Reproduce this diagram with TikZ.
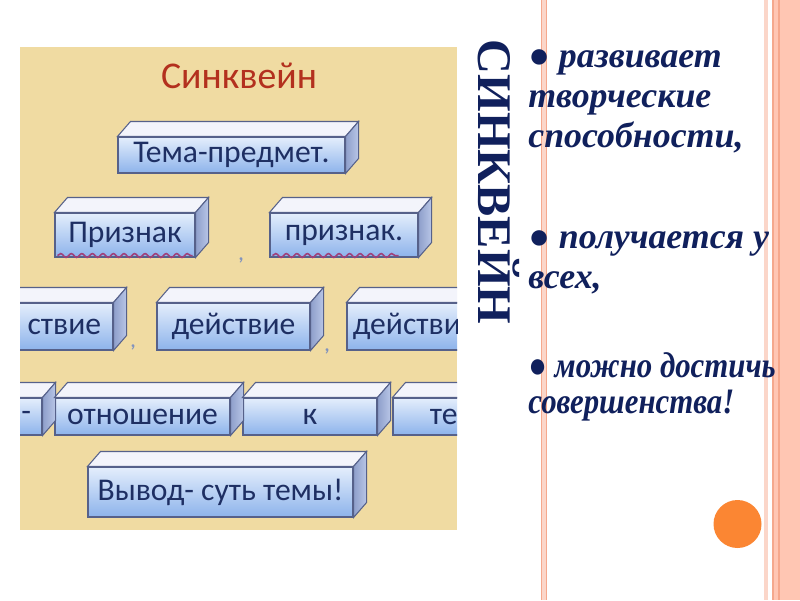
\documentclass[tikz,border=0pt]{standalone}
\usepackage{fontspec}
\setmainfont{Liberation Serif}
\newfontfamily\boxfont{Carlito}
\newfontfamily\narrowserif[FakeStretch=0.86]{Liberation Serif}
\usetikzlibrary{calc,decorations.pathmorphing}
\definecolor{ink}{HTML}{10205C}
\definecolor{photobg}{HTML}{F0DBA2}
\definecolor{titlered}{HTML}{B3301E}
\definecolor{boxtext}{HTML}{1E2F63}
\definecolor{boxline}{HTML}{56618A}
\definecolor{facetop}{HTML}{E4EEFC}
\definecolor{facebot}{HTML}{8DB3EB}
\definecolor{topface}{HTML}{F3F4FB}
\definecolor{sidel}{HTML}{8E9FCB}
\definecolor{sider}{HTML}{B8C5E6}
\definecolor{waveline}{HTML}{A0407A}
\definecolor{commacol}{HTML}{8193BE}
\definecolor{stripe}{HTML}{FFC6B3}
\definecolor{stripeline}{HTML}{F5A88C}
\definecolor{stripepale}{HTML}{FBD6C9}
\definecolor{dotorange}{HTML}{FB8633}
\newcommand\pxu{0.02cm}

\begin{document}
\begin{tikzpicture}[x=0.02cm, y=-0.02cm,
  face/.style={draw=boxline, line width=0.6pt, top color=facetop, bottom color=facebot,
               inner sep=0pt, font=\boxfont\fontsize{18}{20}\selectfont, text=boxtext},
  topf/.style={draw=boxline, line width=0.6pt, fill=topface},
  sidef/.style={draw=boxline, line width=0.6pt, left color=sidel, right color=sider},
  lbl/.style={font=\boxfont\fontsize{18}{20}\selectfont, text=boxtext, inner sep=0pt},
  comma/.style={font=\boxfont\fontsize{11}{12}\selectfont\bfseries, text=commacol, inner sep=0pt},
  wavy/.style={draw=waveline, line width=0.9pt, decorate,
               decoration={snake, amplitude=1.1pt, segment length=6pt}},
  bullet/.style={font=\bfseries\itshape\fontsize{20.4}{22.7}\selectfont, text=ink,
                 align=left, anchor=base west, inner sep=0pt}]
\useasboundingbox (0,0) rectangle (800,600);
\fill[white] (0,0) rectangle (800,600);
% ---------------- slide stripes
\fill[stripepale] (541,0) rectangle (546,600);
\draw[stripeline, line width=0.4pt] (541,0) -- (541,600) (546,0) -- (546,600);
\fill[stripepale] (764,0) rectangle (768,600);
\fill[stripe] (772,0) rectangle (800,600);
\draw[stripeline, line width=0.8pt] (773,0) -- (773,600) (779,0) -- (779,600);
\node[circle, fill=dotorange, minimum size=48*\pxu, inner sep=0pt] (dot) at (737.5,524) {};
% ---------------- cinquain picture
\begin{scope}
\clip (20,47) rectangle (457,530);
\fill[photobg] (20,47) rectangle (457,530);
\node[font=\boxfont\fontsize{21.5}{24}\selectfont, text=titlered] (title) at (239,76) {Синквейн};
% fronts (cm from px)
\node[face, minimum width=227*\pxu, minimum height=36*\pxu] (tema) at (231.5,155) {Тема-предмет.};
\node[face, minimum width=140*\pxu, minimum height=44*\pxu] (prz1) at (125,235) {Признак};
\node[face, minimum width=148*\pxu, minimum height=44*\pxu] (prz2) at (344,235) {признак.};
\node[face, minimum width=150*\pxu, minimum height=47*\pxu] (dst1) at (38,326.5) {};
\node[face, minimum width=153*\pxu, minimum height=47*\pxu] (dst2) at (233.5,326.5) {действие};
\node[face, minimum width=150*\pxu, minimum height=47*\pxu] (dst3) at (422,326.5) {};
\node[face, minimum width=142*\pxu, minimum height=37*\pxu] (otn0) at (-29,416.5) {};
\node[face, minimum width=175*\pxu, minimum height=37*\pxu] (otn) at (142.5,416.5) {отношение};
\node[face, minimum width=134*\pxu, minimum height=37*\pxu] (kk) at (310,416.5) {к};
\node[face, minimum width=140*\pxu, minimum height=37*\pxu] (tem) at (463,416.5) {};
\node[face, minimum width=265*\pxu, minimum height=50*\pxu] (vyv) at (220.5,492) {Вывод- суть темы!};
% top and right faces
\foreach \n in {tema,prz1,prz2,dst1,dst2,dst3,otn0,otn,kk,tem,vyv} {
  \draw[topf] (\n.north west) -- ++(13,-15) -- ($(\n.north east)+(13,-15)$) -- (\n.north east) -- cycle;
  \draw[sidef] (\n.north east) -- ++(13,-15) -- ($(\n.south east)+(13,-15)$) -- (\n.south east) -- cycle;
}
% cut-off words
\node[lbl, anchor=east] (dst1t) at ($(dst1.east)+(-12,0)$) {ствие};
\node[lbl, anchor=west] (dst3t) at ($(dst3.west)+(6,0)$) {действи};
\node[lbl, anchor=east] (otn0t) at ($(otn0.east)+(-11,0)$) {-};
\node[lbl, anchor=west] (temt) at ($(tem.west)+(37,0)$) {те};
% commas and spell-check waves
\node[comma] (c1) at (241,260) {,};
\node[comma] (c2) at (133,347) {,};
\node[comma] (c3) at (327,351) {,};
\draw[wavy] ($(prz1.south west)+(3,-2)$) -- ($(prz1.south east)+(-3,-2)$);
\draw[wavy] ($(prz2.south west)+(3,-2)$) -- ($(prz2.south east)+(-20,-2)$);
\end{scope}
% ---------------- vertical heading and bullets
\node[rotate=-90, anchor=base, font=\bfseries\fontsize{27.5}{30}\selectfont, text=ink, inner sep=0pt]
  (vtitle) at (478,182) {СИНКВЕЙН};
\node[bullet] (b1) at (528,147) {● развивает\\творческие\\способности,};
\node[bullet] (b2) at (528,288) {● получается у\\всех,};
\node[bullet, font=\narrowserif\bfseries\itshape\fontsize{20.4}{20.4}\selectfont] (b3) at (528,413)
  {● можно достичь\\совершенства!};
\end{tikzpicture}
\end{document}
